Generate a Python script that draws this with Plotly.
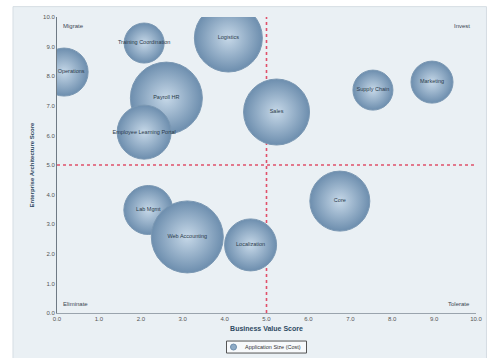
import plotly.graph_objects as go

# Data
apps = ["Plant Operations", "Training Coordination", "Logistics", "Payroll HR",
        "Employee Learning Portal", "Sales", "Supply Chain", "Marketing",
        "Core", "Lab Mgmt", "Web Accounting", "Localization"]
business_value = [0.17, 2.08, 4.09, 2.61, 2.08, 5.24, 7.54, 8.95, 6.75, 2.18, 3.11, 4.62]
arch_score = [8.14, 9.12, 9.29, 7.26, 6.11, 6.79, 7.53, 7.80, 3.78, 3.48, 2.57, 2.30]
app_size = [48, 40, 68, 72, 54, 66, 40, 42, 60, 49, 72, 52]
tick_vals = [0, 1, 2, 3, 4, 5, 6, 7, 8, 9, 10]
tick_text = ["0.0", "1.0", "2.0", "3.0", "4.0", "5.0", "6.0", "7.0", "8.0", "9.0", "10.0"]
quadrants = ["Migrate", "Invest", "Eliminate", "Tolerate"]
legend_label = "Application Size (Cost)"
threshold = 5

marker_style = dict(color="#6d8eae", gradient=dict(type="radial", color="#c6d8e8"),
                    line=dict(color="#7b98b3", width=1))

fig = go.Figure()
fig.add_trace(go.Scatter(
    x=business_value, y=arch_score, mode="markers+text", text=apps,
    textposition="middle center",
    textfont=dict(size=5.5, color="#2b3a4a", family="Liberation Sans"),
    name=legend_label, showlegend=False,
    marker=dict(size=app_size, sizemode="diameter", sizeref=1, opacity=1, **marker_style),
    cliponaxis=True,
))

red = "#e0506a"
fig.add_shape(type="line", x0=threshold, x1=threshold, y0=0, y1=10, xref="x", yref="y",
              line=dict(color=red, width=1.6, dash="dot"), layer="below")
fig.add_shape(type="line", x0=0, x1=10, y0=threshold, y1=threshold, xref="x", yref="y",
              line=dict(color=red, width=1.6, dash="dot"), layer="below")
# panel background
fig.add_shape(type="rect", xref="paper", yref="paper", x0=-0.105, x1=1.025, y0=-0.16, y1=1.035,
              fillcolor="#eaf0f4", line=dict(color="#d5dde3", width=1), layer="below")

qfont = dict(size=6, color="#3a4652", family="Liberation Sans")
fig.add_annotation(text=quadrants[0], xref="x domain", yref="y domain", x=0.01, y=0.985,
                   xanchor="left", yanchor="top", showarrow=False, font=qfont)
fig.add_annotation(text=quadrants[1], xref="x domain", yref="y domain", x=0.99, y=0.985,
                   xanchor="right", yanchor="top", showarrow=False, font=qfont)
fig.add_annotation(text=quadrants[2], xref="x domain", yref="y domain", x=0.01, y=0.015,
                   xanchor="left", yanchor="bottom", showarrow=False, font=qfont)
fig.add_annotation(text=quadrants[3], xref="x domain", yref="y domain", x=0.99, y=0.015,
                   xanchor="right", yanchor="bottom", showarrow=False, font=qfont)

# legend box (manual, compact)
ly = -0.115
fig.add_shape(type="rect", xref="paper", yref="paper",
              x0=0.5 - 40 / 419, x1=0.5 + 40 / 419, y0=ly - 6 / 296, y1=ly + 6 / 296,
              fillcolor="#f7f9fb", line=dict(color="#555", width=1), layer="above")
fig.add_shape(type="circle", xref="paper", yref="paper",
              x0=0.5 - 36 / 419, x1=0.5 - 30 / 419, y0=ly - 3 / 296, y1=ly + 3 / 296,
              fillcolor="#8eabc6", line=dict(color="#6d8eae", width=1), layer="above")
fig.add_annotation(text=legend_label, xref="paper", yref="paper", x=0.5 + 6 / 419, y=ly,
                   xanchor="center", yanchor="middle", showarrow=False,
                   font=dict(size=5.5, color="#333", family="Liberation Sans"))

axfont = dict(size=6, color="#555", family="Liberation Sans")
fig.update_xaxes(range=[0, 10], tickvals=tick_vals, ticktext=tick_text, showgrid=False,
                 zeroline=False, showline=True, linecolor="#9aa4ad", linewidth=1,
                 tickfont=axfont, ticks="", mirror=False,
                 title=dict(text="<b>Business Value Score</b>", standoff=4,
                            font=dict(size=7, color="#2e4a62", family="Liberation Sans")))
fig.update_yaxes(range=[0, 10], tickvals=tick_vals, ticktext=tick_text, showgrid=False,
                 zeroline=False, showline=True, linecolor="#6f7a84", linewidth=1,
                 tickfont=axfont, ticks="",
                 title=dict(text="<b>Enterprise Architecture Score</b>", standoff=8,
                            font=dict(size=6, color="#2e4a62", family="Liberation Sans")))

fig.update_layout(
    width=495, height=358,
    margin=dict(l=57, r=19, t=17, b=45),
    paper_bgcolor="white", plot_bgcolor="white",
    showlegend=False,
)
fig.write_html("out.html")
